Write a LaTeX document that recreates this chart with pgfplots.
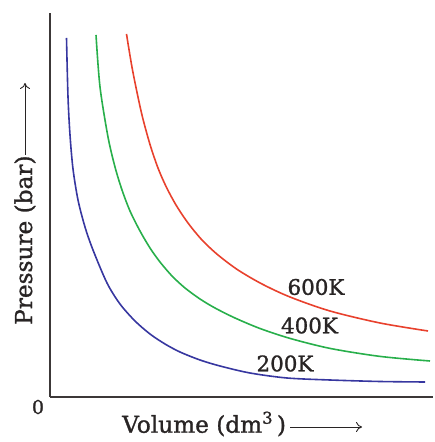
\documentclass[border=0pt]{standalone}
\usepackage{fontspec}
\setmainfont{DejaVu Serif}[FakeBold=1.2]
\usepackage{pgfplots}
\pgfplotsset{compat=1.18}
\usetikzlibrary{arrows.meta}
\definecolor{cblue}{RGB}{55,55,160}
\definecolor{cgreen}{RGB}{40,175,75}
\definecolor{cred}{RGB}{232,65,45}
\definecolor{axisgray}{RGB}{60,56,56}
\definecolor{txt}{RGB}{40,36,36}
\begin{document}
\begin{tikzpicture}[x=1bp,y=1bp]
\path[use as bounding box] (0,0) rectangle (435,442);
\begin{axis}[
  at={(50bp,45bp)}, anchor=south west,
  width=383bp, height=384bp, scale only axis,
  xmin=0, xmax=383, ymin=0, ymax=384,
  axis x line=bottom, axis y line=left,
  axis line style={-, line width=2.5bp, draw=axisgray},
  xtick=\empty, ytick=\empty, clip=false,
]
\addplot[cblue, line width=1.6bp, smooth] coordinates {
(16.5,359) (18,300) (20,262) (23,228) (28,197) (35,170) (43,147) (57,114) (70,93) (85,76) (100,63) (115,53) (130,45) (150,37) (170,31) (200,24) (237,19) (280,17) (330,15.5) (375,15)
};
\addplot[cgreen, line width=1.6bp, smooth] coordinates {
(46,362) (50,310) (58,260) (65,230) (72,207) (80,186) (90,166) (100,149) (110,135) (122,121) (135,109) (150,98) (165,89) (185,79) (210,68.5) (240,58.6) (280,48.6) (330,40.6) (380,36)
};
\addplot[cred, line width=1.6bp, smooth] coordinates {
(76.5,363) (82.5,327) (91.5,284) (100,252.5) (108,229) (116,210.6) (126,192) (138,174) (152,157) (168,142) (188,127) (212,113) (240,100) (280,86) (330,74) (378,66)
};
\end{axis}
\fontsize{21.5}{21.5}\selectfont
\node[txt] at (316,155) {600K};
\node[txt] at (309.5,116.5) {400K};
\node[txt] at (285,78.5) {200K};
\node[txt, font=\fontsize{19}{19}\selectfont] at (38,35) {0};
\node[txt, anchor=base west, inner sep=0pt, font=\fontsize{23.3}{23.3}\selectfont] at (122,9.3) {Volume (dm\textsuperscript{3}\,)};
\draw[txt, line width=0.9bp, -{To[length=6bp,width=10bp]}] (290,15) -- (362,15);
\node[txt, anchor=base west, inner sep=0pt, rotate=90, font=\fontsize{23.3}{23.3}\selectfont] at (32,117) {Pressure (bar)};
\draw[txt, line width=0.9bp, -{To[length=6bp,width=10bp]}] (25,287) -- (25,359);
\end{tikzpicture}
\end{document}
